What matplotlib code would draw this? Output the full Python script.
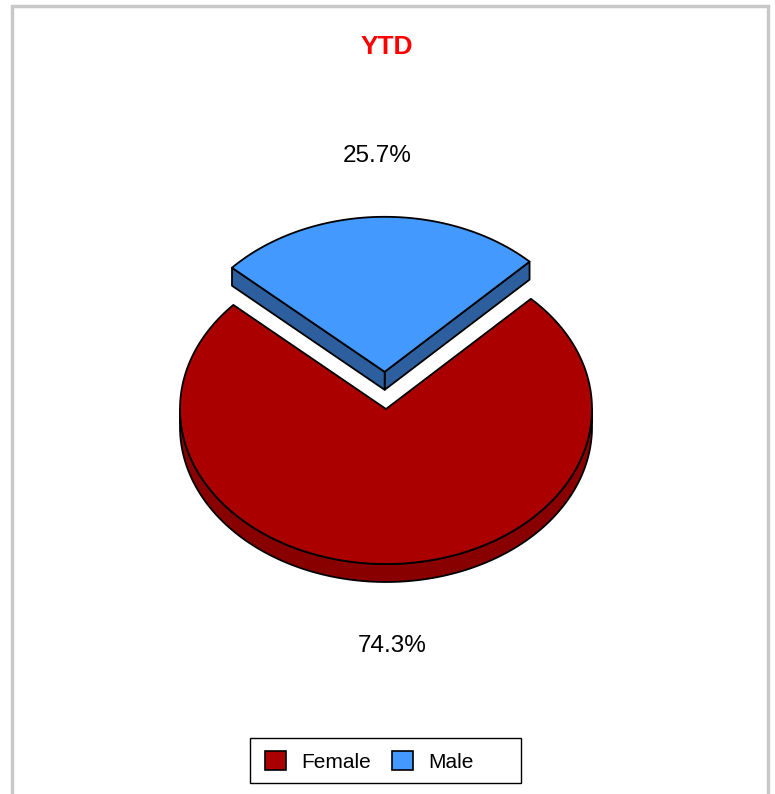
import matplotlib.pyplot as plt
import numpy as np
from matplotlib.patches import Polygon, Patch, Rectangle

plt.rcParams['font.family'] = ['Liberation Sans', 'DejaVu Sans']

labels = ["Female", "Male"]
values = [74.3, 25.7]
colors = ["#AA0000", "#4499FF"]
side_colors = ["#880000", "#2D5F9E"]
explode = [0.0, 0.24]
title = "YTD"

# pie geometry, in pixels
cx, cy = 386., 409.
rx, ry = 206., 155.
depth = 18.
start = 45.3     # male slice begins here, degrees counter-clockwise

fig = plt.figure(figsize=(7.75, 7.94), dpi=100)
ax = fig.add_axes([0, 0, 1, 1])
ax.set_xlim(0, 775)
ax.set_ylim(794, 0)
ax.axis("off")

# outer frame
ax.plot([12, 12, 768, 768], [800, 6, 6, 800], color="#C8C8C8", lw=2.5,
        solid_joinstyle="miter", zorder=1)

def pt(a, ox, oy):
    a = np.radians(a)
    return ox + rx*np.cos(a), oy - ry*np.sin(a)

def arc(a0, a1, ox, oy, dz=0., n=200):
    t = np.radians(np.linspace(a0, a1, n))
    return np.column_stack([ox + rx*np.cos(t), oy - ry*np.sin(t) + dz])

fracs = np.array(values) / sum(values)
spans = fracs * 360.
# male first (from start), then female goes on round to meet it
a_male = (start, start + spans[1])
a_female = (a_male[1], a_male[1] + spans[0])
angles = [a_female, a_male]

edge = dict(edgecolor="black", lw=1.3, joinstyle="round")
for i in [1, 0]:
    a0, a1 = angles[i]
    mid = np.radians((a0 + a1) / 2)
    ox = cx + rx*explode[i]*np.cos(mid)
    oy = cy - ry*explode[i]*np.sin(mid)
    # front rim
    lo, hi = max(a0, 180.), min(a1, 360.)
    if hi > lo:
        rim = np.vstack([arc(lo, hi, ox, oy), arc(hi, lo, ox, oy, depth)])
        ax.add_patch(Polygon(rim, closed=True, facecolor=side_colors[i], **edge, zorder=2))
    # cut walls: only seen on the slice that is pulled out towards the back
    if explode[i] > 0:
        for a in (a0, a1):
            px, py = pt(a, ox, oy)
            wall = [(ox, oy), (px, py), (px, py + depth), (ox, oy + depth)]
            ax.add_patch(Polygon(wall, closed=True, facecolor=side_colors[i], **edge, zorder=2))
    top = np.vstack([[ox, oy], arc(a0, a1, ox, oy)])
    ax.add_patch(Polygon(top, closed=True, facecolor=colors[i], **edge, zorder=3))

ax.text(377, 156, "25.7%", fontsize=17.5, ha="center", va="center")
ax.text(392, 646, "74.3%", fontsize=17.5, ha="center", va="center")
ax.text(387, 47, title, fontsize=19, fontweight="bold", color="#FF0000",
        ha="center", va="center")

# legend: entries without frame, box drawn separately (extra room on the right)
handles = [Patch(facecolor=c, edgecolor="black", lw=1.2) for c in colors]
leg = ax.legend(handles, labels, loc="center left", bbox_to_anchor=(265, 761.5),
                bbox_transform=ax.transData, ncol=2, fontsize=15, frameon=False,
                handlelength=1.0, handleheight=1.0, handletextpad=0.75,
                columnspacing=1.0, borderpad=0, borderaxespad=0)
ax.add_patch(Rectangle((250, 738), 271, 45, facecolor="none", edgecolor="black",
                       lw=1.0, zorder=4))

fig.savefig("out.png", dpi=100, facecolor="white")
